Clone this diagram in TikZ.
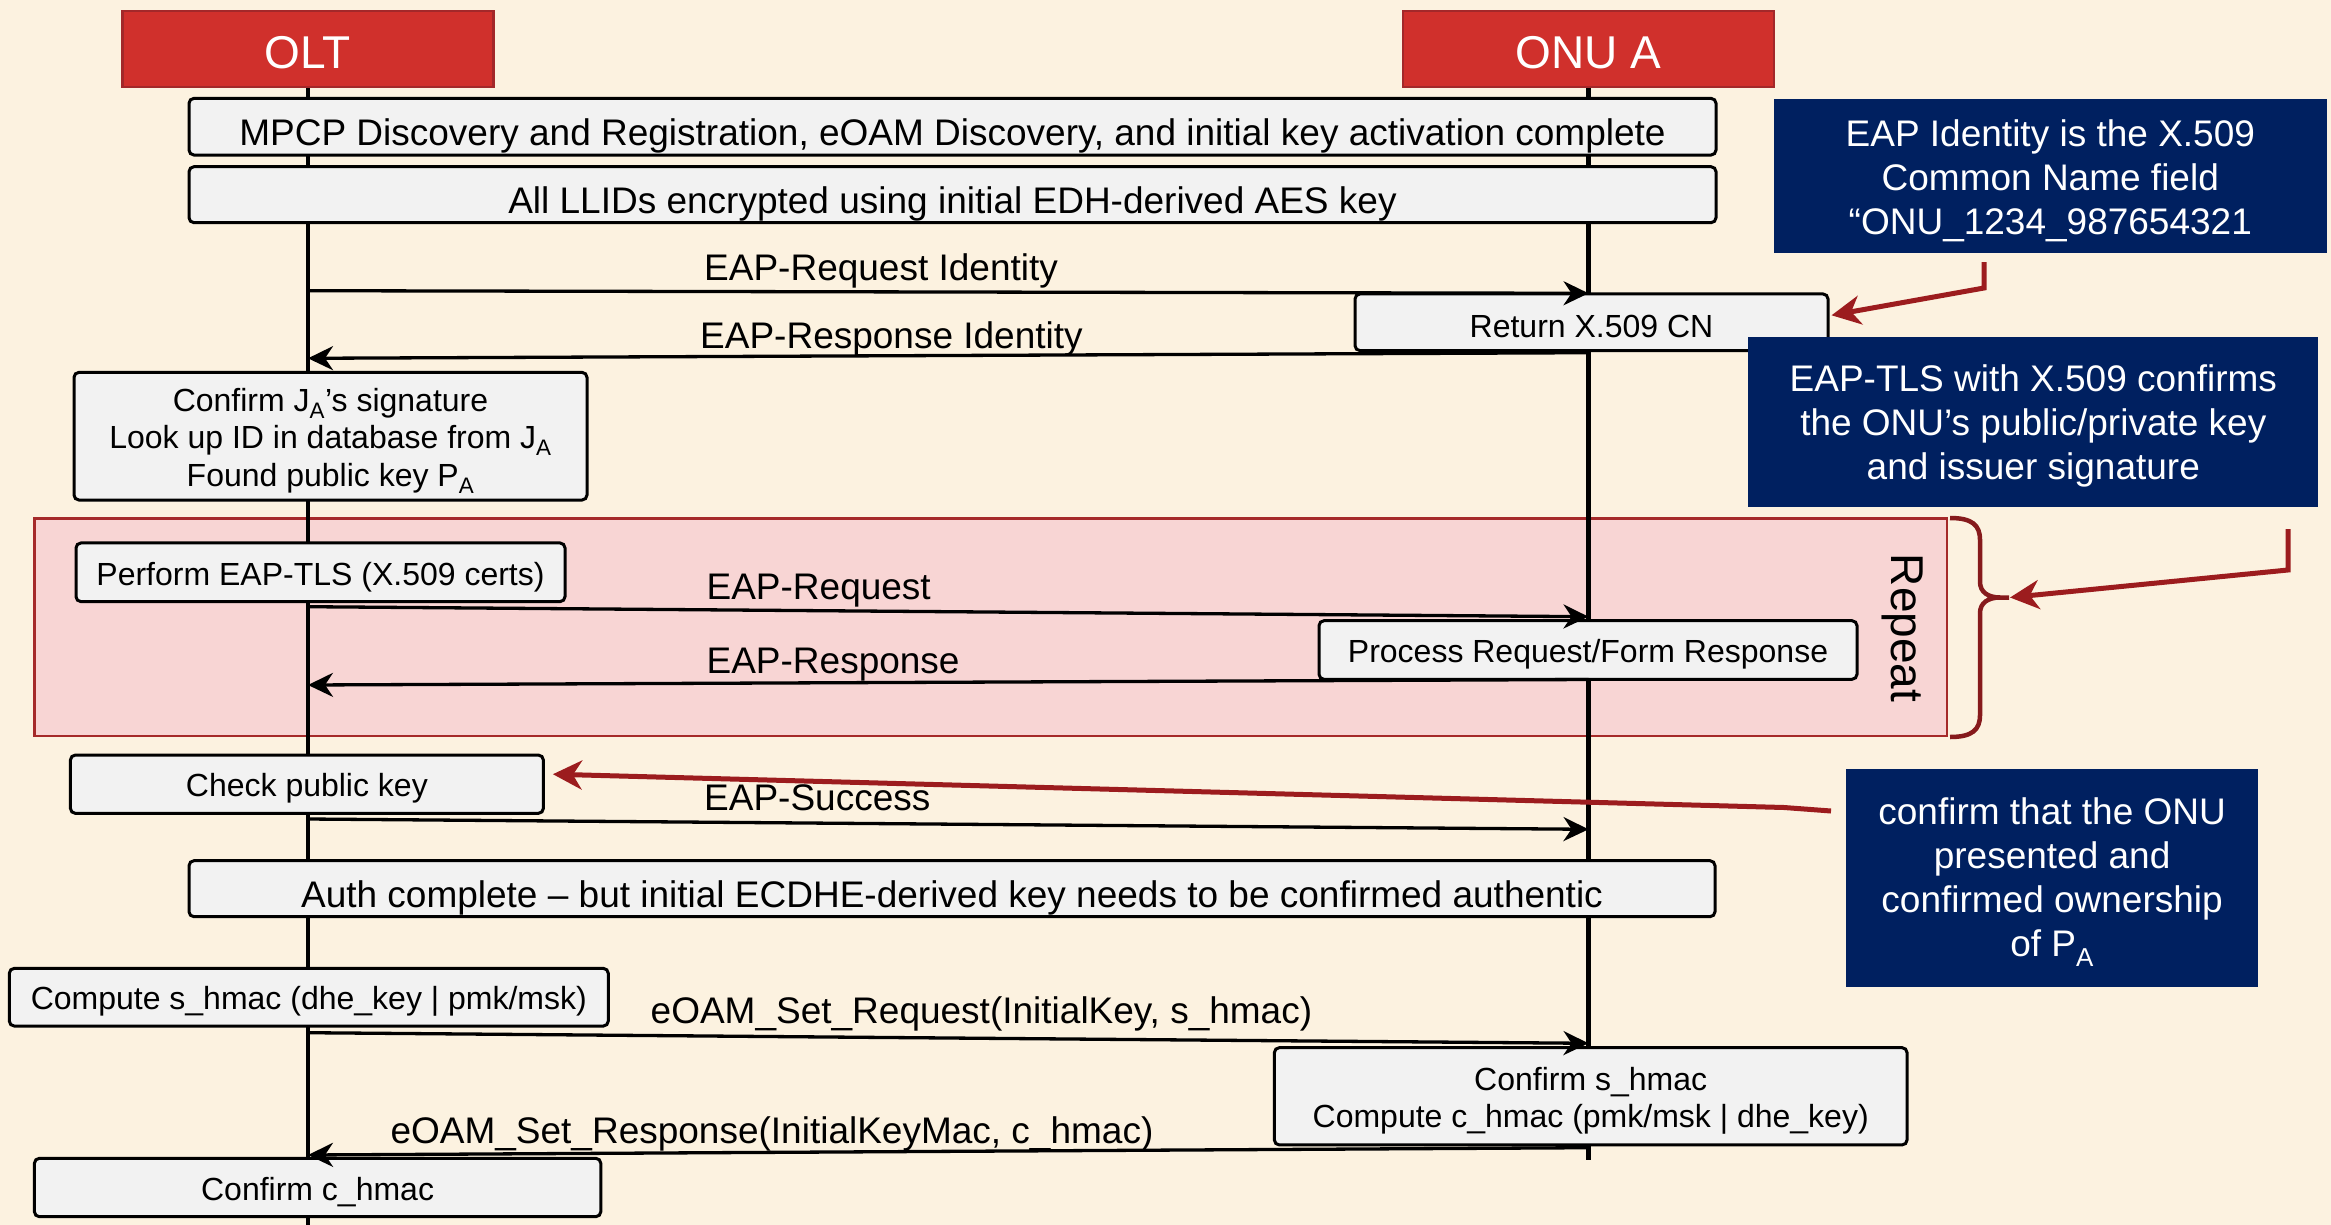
\documentclass[tikz,border=0pt]{standalone}
\usepackage{fontspec}
\setmainfont{Liberation Sans}
\usetikzlibrary{arrows.meta}

\definecolor{paper}{HTML}{FCF2E0}
\definecolor{hdrred}{HTML}{D0302C}
\definecolor{hdrline}{HTML}{A3282A}
\definecolor{boxgray}{HTML}{F2F2F2}
\definecolor{navy}{HTML}{002060}
\definecolor{loopfill}{HTML}{F8D5D4}
\definecolor{loopline}{HTML}{A52A2A}
\definecolor{notered}{HTML}{9C1C1E}
\definecolor{bracered}{HTML}{861A1C}

\newcommand\hdrfont{\fontsize{46}{55}\selectfont}
\newcommand\barfont{\fontsize{37}{44}\selectfont}
\newcommand\stepfont{\fontsize{32}{37.5}\selectfont}
\newcommand\msgfont{\fontsize{37}{44}\selectfont}

\begin{document}
\begin{tikzpicture}[x=1pt,y=-1pt,
  hdr/.style={draw=hdrline, fill=hdrred, line width=2.5, minimum width=371,
    minimum height=76, inner sep=0},
  hdrtext/.style={inner sep=0, text=white, font=\hdrfont, yshift=-3},
  lifeline/.style={line width=4.5, draw=black},
  stepbox/.style={draw=black, fill=boxgray, line width=3, rounded corners=5,
    inner sep=0},
  steptext/.style={inner sep=0, align=center, font=\stepfont, yshift=-4.5},
  bartext/.style={steptext, font=\barfont, yshift=-5},
  note/.style={fill=navy, inner sep=0},
  notetext/.style={inner sep=0, text=white, align=center, font=\msgfont, yshift=-4},
  msg/.style={draw=black, line width=3.3,
    -{Stealth[length=25, width=24, inset=8]}},
  msglabel/.style={anchor=base west, inner sep=0, font=\msgfont},
  pointer/.style={draw=notered, line width=5, line join=miter,
    -{Stealth[length=29, width=29, inset=9]}},
]
% page
\fill[paper] (0,0) rectangle (2331,1225);
\useasboundingbox (0,0) rectangle (2331,1225);

% repeated exchange area
\node[draw=loopline, fill=loopfill, line width=2.5, inner sep=0,
  minimum width=1912.6, minimum height=217.5] (loop) at (990.7,627.2) {};
\node[rotate=-90, inner sep=0, font=\hdrfont] (rep) at (1903,628) {Repeat};

% participants and their lifelines
\node[hdr] (olt) at (308,49.2) {};
\node[hdr] (onu) at (1588.5,49.2) {};
\node[hdrtext] (oltT) at (olt.center) {OLT};
\node[hdrtext] (onuT) at (onu.center) {ONU A};
\coordinate (oltEnd) at (308,1225);
\coordinate (onuEnd) at (1588.5,1160);
\draw[lifeline] (olt.south) -- (oltEnd);
\draw[lifeline] (onu.south) -- (onuEnd);

% shared phases
\node[stepbox, minimum width=1527, minimum height=56.7] (mpcp) at (952.5,126.7) {};
\node[bartext] (mpcpT) at (mpcp.center)
  {MPCP Discovery and Registration, eOAM Discovery, and initial key activation complete};
\node[stepbox, minimum width=1527, minimum height=56] (llid) at (952.5,194.7) {};
\node[bartext] (llidT) at (llid.center)
  {All LLIDs encrypted using initial EDH-derived AES key};
\node[stepbox, minimum width=1526, minimum height=56] (auth) at (952,888.7) {};
\node[bartext] (authT) at (auth.center)
  {Auth complete -- but initial ECDHE-derived key needs to be confirmed authentic};

% local steps
\node[stepbox, minimum width=473, minimum height=56.7] (retcn) at (1591.5,322.3) {};
\node[steptext] (retcnT) at (retcn.center) {Return X.509 CN};
\node[stepbox, minimum width=513, minimum height=127.7] (confj) at (330.5,436.2) {};
\node[steptext] (confjT) at (confj.center)
  {Confirm J\textsubscript{A}’s signature\\Look up ID in database from J\textsubscript{A}\\Found public key P\textsubscript{A}};
\node[stepbox, minimum width=489, minimum height=58.7] (perf) at (320.5,572.3) {};
\node[steptext] (perfT) at (perf.center) {Perform EAP-TLS (X.509 certs)};
\node[stepbox, minimum width=538, minimum height=58.6] (proc) at (1588,650) {};
\node[steptext] (procT) at (proc.center) {Process Request/Form Response};
\node[stepbox, minimum width=473, minimum height=58.3] (check) at (306.9,784.2) {};
\node[steptext] (checkT) at (check.center) {Check public key};
\node[stepbox, minimum width=599, minimum height=57.7] (comps) at (308.8,997.2) {};
\node[steptext] (compsT) at (comps.center) {Compute s\_hmac (dhe\_key | pmk/msk)};
\node[stepbox, minimum width=632.7, minimum height=97.3] (confs) at (1590.7,1096.3) {};
\node[steptext] (confsT) at (confs.center)
  {Confirm s\_hmac\\Compute c\_hmac (pmk/msk | dhe\_key)};
\node[stepbox, minimum width=566.4, minimum height=58.4] (confc) at (317.6,1187.5) {};
\node[steptext] (confcT) at (confc.center) {Confirm c\_hmac};

% messages
\coordinate (m1a) at (308,290.7);   \coordinate (m1b) at (1588.5,293.3);
\coordinate (m2a) at (1588.5,352.7); \coordinate (m2b) at (308,358.3);
\coordinate (m3a) at (308,606.7);   \coordinate (m3b) at (1588.5,616.7);
\coordinate (m4a) at (1588.5,679.5); \coordinate (m4b) at (308,685);
\coordinate (m5a) at (308,819);     \coordinate (m5b) at (1588.5,829.3);
\coordinate (m6a) at (308,1032.7);  \coordinate (m6b) at (1588.5,1043.3);
\coordinate (m7a) at (1588.5,1147.7); \coordinate (m7b) at (308,1155);
\draw[msg] (m1a) -- (m1b);
\draw[msg] (m2a) -- (m2b);
\draw[msg] (m3a) -- (m3b);
\draw[msg] (m4a) -- (m4b);
\draw[msg] (m5a) -- (m5b);
\draw[msg] (m6a) -- (m6b);
\draw[msg] (m7a) -- (m7b);
\node[msglabel] (l1) at (704,280) {EAP-Request Identity};
\node[msglabel] (l2) at (700,348.3) {EAP-Response Identity};
\node[msglabel] (l3) at (706.4,599.3) {EAP-Request};
\node[msglabel] (l4) at (706.4,673.3) {EAP-Response};
\node[msglabel] (l5) at (704,810) {EAP-Success};
\node[msglabel] (l6) at (650.5,1023.3) {eOAM\_Set\_Request(InitialKey, s\_hmac)};
\node[msglabel] (l7) at (390.3,1143.3) {eOAM\_Set\_Response(InitialKeyMac, c\_hmac)};

% explanatory notes
\node[note, minimum width=553.4, minimum height=154] (n1) at (2050.3,176.3) {};
\node[notetext] (n1T) at (n1.center)
  {EAP Identity is the X.509\\Common Name field\\“ONU\_1234\_987654321};
\node[note, minimum width=570, minimum height=170] (n2) at (2033.3,422.3) {};
\node[notetext] (n2T) at (n2.center)
  {EAP-TLS with X.509 confirms\\the ONU’s public/private key\\and issuer signature};
\node[note, minimum width=412.6, minimum height=217.4] (n3) at (2052.1,878) {};
\node[notetext] (n3T) at (n3.center)
  {confirm that the ONU\\presented and\\confirmed ownership\\of P\textsubscript{A}};

% brace around the repeated exchange
\draw[bracered, line width=4.5]
  (1950,518) .. controls (1972,518) and (1980,525) .. (1980,540)
  -- (1980,582) .. controls (1980,592) and (1988,597.5) .. (2000,597.5)
  -- (2009,597.5) -- (2000,597.5)
  .. controls (1988,597.5) and (1980,603) .. (1980,613)
  -- (1980,715) .. controls (1980,730) and (1972,737) .. (1950,737);
\coordinate (braceTip) at (2010,597.5);

% pointers from the notes
\coordinate (p1a) at (1984,262);  \coordinate (p1b) at (1984,288);
\coordinate (p2a) at (2288,529);  \coordinate (p2b) at (2288,570);
\coordinate (p3a) at (1831,811);  \coordinate (p3b) at (1784,807.5);
\draw[pointer] (p1a) -- (p1b) -- ([xshift=2pt,yshift=7pt]retcn.east);
\draw[pointer] (p2a) -- (p2b) -- (braceTip);
\draw[pointer] (p3a) -- (p3b) -- ([xshift=8pt,yshift=10pt]check.east);
\end{tikzpicture}
\end{document}
